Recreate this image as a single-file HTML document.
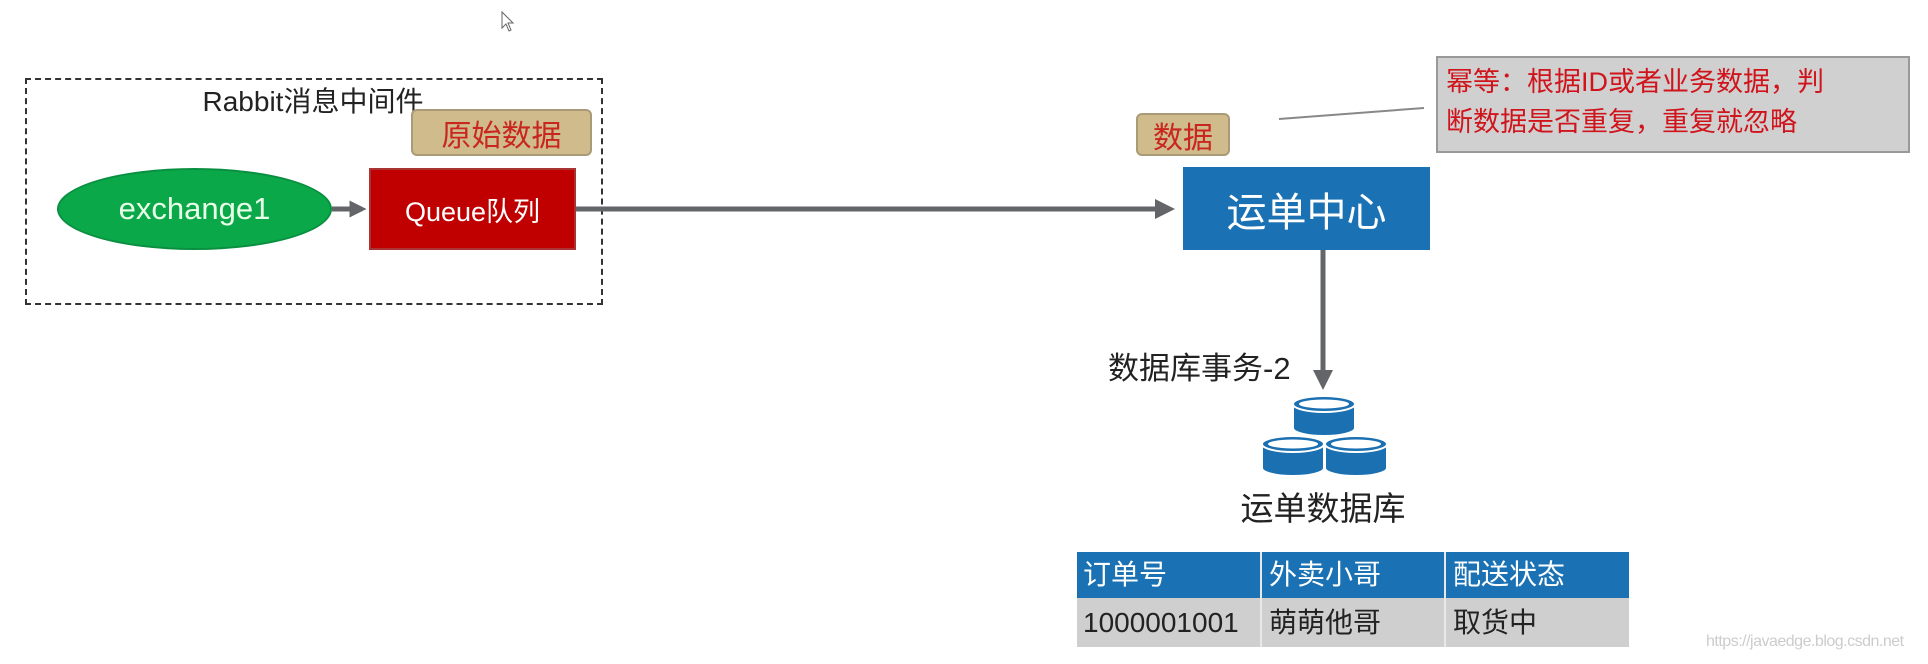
<!DOCTYPE html>
<html><head><meta charset="utf-8"><style>
body{margin:0;width:1928px;height:664px;background:#fff;position:relative;overflow:hidden;font-family:"Liberation Sans","Noto Sans CJK SC",sans-serif}
.a{position:absolute;box-sizing:border-box}
.c{display:flex;align-items:center;justify-content:center}
.cell{position:absolute;height:46px;display:flex;align-items:center;line-height:1}
</style></head><body>
<div class="a" style="left:25px;top:78px;width:578px;height:227px;border:2px dashed #333"></div>
<div class="a" style="left:165px;top:80px;width:296px;text-align:center;font-size:28px;color:#222">Rabbit消息中间件</div>
<div class="a c" style="left:411px;top:109px;width:181px;height:47px;background:#cfbb8b;border:2px solid #a99b78;border-radius:6px;color:#c8261e;font-size:30px">原始数据</div>
<div class="a c" style="left:57px;top:168px;width:275px;height:82px;background:#0ba84a;border:2px solid #0a8f40;border-radius:50%;color:#e8ffe8;font-size:31px">exchange1</div>
<div class="a c" style="left:369px;top:168px;width:207px;height:82px;background:#c00000;border:2px solid #a33;color:#fff;font-size:27px">Queue队列</div>
<div class="a c" style="left:1183px;top:167px;width:247px;height:83px;background:#1a71b3;color:#fff;font-size:40px">运单中心</div>
<div class="a c" style="left:1136px;top:113px;width:94px;height:43px;background:#cfbb8b;border:2px solid #a99b78;border-radius:6px;color:#c8261e;font-size:30px">数据</div>
<div class="a" style="left:1436px;top:56px;width:474px;height:97px;background:#d0d0d0;border:2px solid #999;color:#d0141c;font-size:27px;line-height:40px;padding:4px 0 0 8px">幂等：根据ID或者业务数据，判<br>断数据是否重复，重复就忽略</div>
<svg class="a" style="left:0;top:0" width="1928" height="664">
<defs><marker id="m" markerWidth="4" markerHeight="4" refX="3" refY="2" orient="auto"><path d="M0,0L4,2L0,4z" fill="#636569"/></marker>
<marker id="s" markerWidth="3.4" markerHeight="3.4" refX="2.5" refY="1.7" orient="auto"><path d="M0,0L3.4,1.7L0,3.4z" fill="#636569"/></marker></defs>
<line x1="332" y1="209" x2="362" y2="209" stroke="#636569" stroke-width="5" marker-end="url(#s)"/>
<line x1="576" y1="209" x2="1170" y2="209" stroke="#636569" stroke-width="5" marker-end="url(#m)"/>
<line x1="1323" y1="250" x2="1323" y2="385" stroke="#636569" stroke-width="5" marker-end="url(#m)"/>
<line x1="1279" y1="119" x2="1424" y2="108" stroke="#888" stroke-width="2"/>
<g fill="#1b70b2" stroke="#fff" stroke-width="2">
<path d="M1262,444 v24 a31,8 0 0 0 62,0 v-24z"/><ellipse cx="1293" cy="444" rx="31" ry="8"/>
<path d="M1325,444 v24 a31,8 0 0 0 62,0 v-24z"/><ellipse cx="1356" cy="444" rx="31" ry="8"/>
<path d="M1293,404 v24 a31,8 0 0 0 62,0 v-24z"/><ellipse cx="1324" cy="404" rx="31" ry="8"/>
</g>
<g fill="#fff"><ellipse cx="1293" cy="444" rx="25" ry="4.5"/><ellipse cx="1356" cy="444" rx="25" ry="4.5"/><ellipse cx="1324" cy="404" rx="25" ry="4.5"/></g>
<path d="M502,12 v16 l4,-4 l3,7 l2,-1 l-3,-7 h5z" fill="#fff" stroke="#666"/>
</svg>
<div class="a" style="left:1108px;top:343px;font-size:31px;color:#222">数据库事务-2</div>
<div class="a" style="left:1215px;top:482px;width:216px;text-align:center;font-size:33px;color:#222">运单数据库</div>
<div class="a" style="left:1077px;top:552px;width:552px;height:95px;font-size:28px">
<div class="a" style="left:0;top:0;width:552px;height:46px;background:#1a71b3"></div>
<div class="a" style="left:0;top:46px;width:552px;height:49px;background:#cfcfcf"></div>
<div class="a" style="left:183px;top:0;width:2px;height:95px;background:#e8e8e8"></div>
<div class="a" style="left:367px;top:0;width:2px;height:95px;background:#e8e8e8"></div>
<div class="cell" style="left:6px;top:0;color:#fff">订单号</div>
<div class="cell" style="left:192px;top:0;color:#fff">外卖小哥</div>
<div class="cell" style="left:376px;top:0;color:#fff">配送状态</div>
<div class="cell" style="left:6px;top:48px;color:#222">1000001001</div>
<div class="cell" style="left:192px;top:48px;color:#222">萌萌他哥</div>
<div class="cell" style="left:376px;top:48px;color:#222">取货中</div>
</div>
<div class="a" style="left:1706px;top:633px;font-size:16px;letter-spacing:-0.5px;color:#ccc">https://javaedge.blog.csdn.net</div>
</body></html>
